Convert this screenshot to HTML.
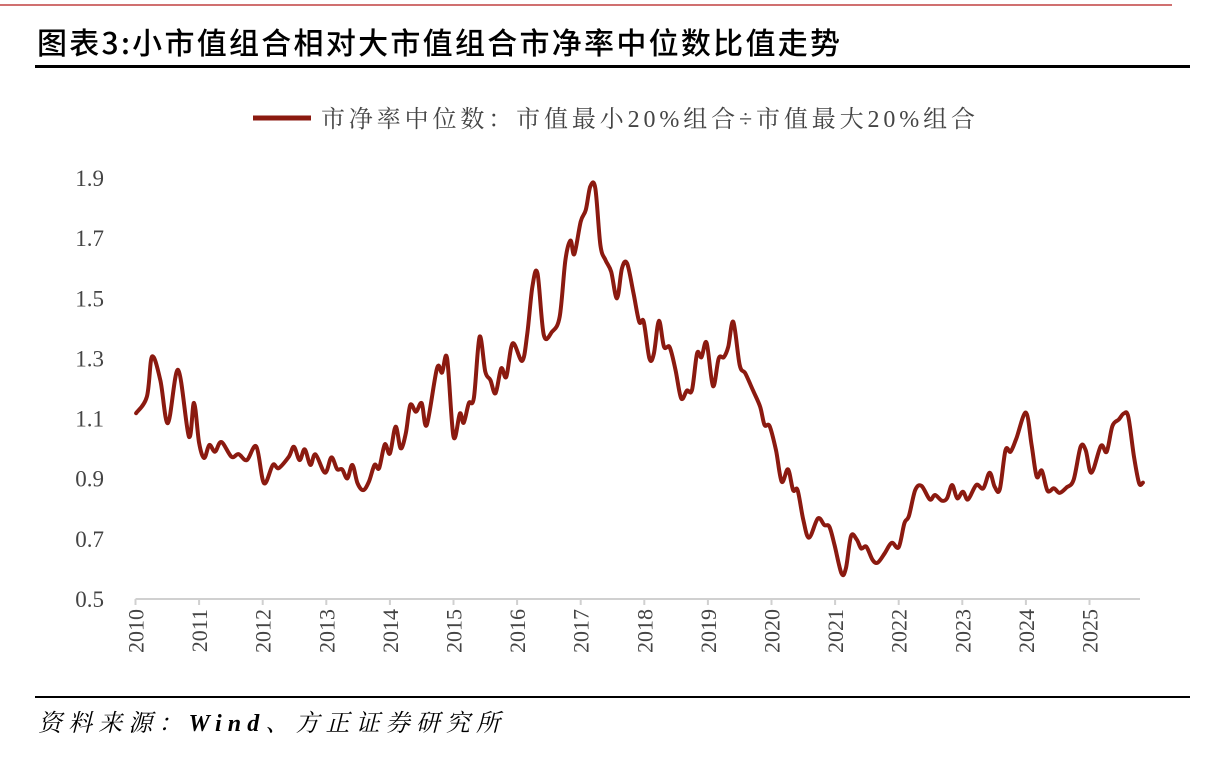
<!DOCTYPE html>
<html><head><meta charset="utf-8"><style>
body{margin:0;background:#fff;width:1214px;height:758px;overflow:hidden;position:relative;font-family:"Liberation Serif","Noto Serif CJK SC",serif}
.abs{position:absolute}
</style></head><body>
<div class="abs" style="left:0;top:4px;width:1172px;height:2px;background:#d07070"></div>
<div class="abs" style="left:35px;top:65px;width:1155px;height:3px;background:#000"></div>
<div class="abs" style="left:35px;top:696px;width:1155px;height:2px;background:#000"></div>
<svg class="abs" style="left:0;top:0" width="1214" height="758">
<text x="37" y="54" font-size="30" font-weight="500" fill="#000" font-family="Noto Sans CJK SC,sans-serif" textLength="803" lengthAdjust="spacing">图表3:小市值组合相对大市值组合市净率中位数比值走势</text>
<text x="38" y="731" font-size="24" font-style="italic" fill="#000" font-family="Liberation Serif,Noto Serif CJK SC,serif" textLength="462" lengthAdjust="spacing">资料来源：<tspan font-weight="bold">Wind</tspan>、方正证券研究所</text>
<g>
<line x1="253" y1="118" x2="311" y2="118" stroke="#8b1a10" stroke-width="5"/>
<text x="321" y="127" font-size="24" fill="#444" font-family="Liberation Serif,Noto Serif CJK SC,serif" textLength="654" lengthAdjust="spacing">市净率中位数：市值最小20%组合÷市值最大20%组合</text>
</g>
<g id="axes"></g>
<path id="line" fill="none" stroke="#8b1a10" stroke-width="4" stroke-linejoin="round" stroke-linecap="round"/>
</svg>
<script>
const dates=[2010.01,2010.18,2010.26,2010.39,2010.51,2010.67,2010.84,2010.92,2011.0,2011.08,2011.16,2011.25,2011.35,2011.51,2011.62,2011.75,2011.9,2012.02,2012.16,2012.25,2012.41,2012.49,2012.58,2012.66,2012.75,2012.83,2012.98,2013.08,2013.17,2013.25,2013.33,2013.41,2013.49,2013.58,2013.67,2013.76,2013.83,2013.92,2014.0,2014.09,2014.17,2014.25,2014.32,2014.41,2014.5,2014.58,2014.74,2014.82,2014.9,2015.0,2015.1,2015.16,2015.24,2015.32,2015.41,2015.5,2015.58,2015.66,2015.75,2015.83,2015.93,2016.08,2016.16,2016.24,2016.32,2016.42,2016.55,2016.67,2016.76,2016.84,2016.9,2017.0,2017.08,2017.15,2017.23,2017.31,2017.39,2017.48,2017.57,2017.65,2017.73,2017.83,2017.92,2017.99,2018.08,2018.15,2018.23,2018.31,2018.40,2018.49,2018.58,2018.67,2018.75,2018.83,2018.90,2018.98,2019.08,2019.17,2019.25,2019.32,2019.40,2019.50,2019.59,2019.71,2019.82,2019.89,2019.97,2020.07,2020.16,2020.26,2020.34,2020.41,2020.50,2020.59,2020.73,2020.83,2020.91,2020.99,2021.10,2021.17,2021.25,2021.34,2021.41,2021.49,2021.59,2021.67,2021.78,2021.89,2022.00,2022.09,2022.16,2022.26,2022.36,2022.49,2022.57,2022.68,2022.76,2022.84,2022.92,2023.01,2023.09,2023.22,2023.33,2023.43,2023.51,2023.59,2023.68,2023.76,2023.85,2024.0,2024.09,2024.17,2024.25,2024.34,2024.44,2024.53,2024.64,2024.75,2024.86,2024.94,2025.03,2025.18,2025.27,2025.36,2025.46,2025.54,2025.61,2025.70,2025.78,2025.84];
const values=[1.118,1.173,1.306,1.228,1.085,1.262,1.04,1.152,1.019,0.969,1.012,0.99,1.022,0.973,0.982,0.962,1.007,0.885,0.946,0.935,0.973,1.006,0.962,0.998,0.946,0.981,0.92,0.971,0.932,0.931,0.901,0.946,0.885,0.862,0.89,0.946,0.935,1.014,0.984,1.073,1.001,1.051,1.145,1.123,1.151,1.079,1.267,1.253,1.3,1.04,1.117,1.086,1.151,1.169,1.372,1.256,1.228,1.184,1.267,1.239,1.35,1.292,1.383,1.539,1.583,1.378,1.389,1.439,1.627,1.692,1.647,1.755,1.794,1.871,1.866,1.677,1.627,1.588,1.5,1.6,1.616,1.517,1.422,1.422,1.3,1.315,1.425,1.339,1.337,1.262,1.167,1.193,1.195,1.317,1.304,1.352,1.208,1.3,1.304,1.339,1.422,1.278,1.25,1.193,1.14,1.079,1.075,0.995,0.89,0.931,0.862,0.862,0.763,0.704,0.768,0.746,0.74,0.68,0.585,0.602,0.709,0.698,0.668,0.674,0.63,0.621,0.652,0.687,0.672,0.752,0.776,0.862,0.876,0.831,0.846,0.827,0.835,0.879,0.835,0.857,0.831,0.879,0.868,0.92,0.873,0.865,0.995,0.99,1.034,1.12,1.012,0.907,0.927,0.86,0.868,0.853,0.871,0.896,1.006,0.995,0.92,1.009,0.99,1.075,1.097,1.117,1.106,0.973,0.885,0.887];
const yTicks=[0.5,0.7,0.9,1.1,1.3,1.5,1.7,1.9];
const xYears=[2010,2011,2012,2013,2014,2015,2016,2017,2018,2019,2020,2021,2022,2023,2024,2025];
const X0=135.5,PX=63.6,Y0=599,PY=300.7;
const xs=t=>X0+(t-2010)*PX, ys=v=>Y0-(v-0.5)*PY;
const NS='http://www.w3.org/2000/svg';
const ax=document.getElementById('axes');
function mk(tag,attrs){const e=document.createElementNS(NS,tag);for(const k in attrs)e.setAttribute(k,attrs[k]);return e;}
const base=mk('line',{x1:X0,y1:Y0,x2:1140,y2:Y0,stroke:'#d0d0d0','stroke-width':2});


ax.appendChild(base);
xYears.forEach(y=>{
 const x=xs(y);
 const t=mk('line',{x1:x,y1:Y0,x2:x,y2:Y0+6,stroke:'#d0d0d0','stroke-width':2});
 
 
 ax.appendChild(t);
 const l=mk('text',{x:0,y:0,'font-size':22,fill:'#444','font-family':'Liberation Serif,serif','text-anchor':'end',transform:`translate(${x+8},${Y0+10}) rotate(-90)`});
 l.textContent=y;
 
 
 ax.appendChild(l);
});
yTicks.forEach(v=>{
 const l=mk('text',{x:104,y:ys(v)+8,'font-size':23,fill:'#444','font-family':'Liberation Serif,serif','text-anchor':'end'});
 l.textContent=v.toFixed(1);
 
 
 ax.appendChild(l);
});
const P=dates.map((d,i)=>[xs(d),ys(values[i])]);
let d=`M${P[0][0]},${P[0][1]}`;
for(let i=0;i<P.length-1;i++){
 const p0=P[i-1]||P[i],p1=P[i],p2=P[i+1],p3=P[i+2]||P[i+1];
 const c1=[p1[0]+(p2[0]-p0[0])/6,p1[1]+(p2[1]-p0[1])/6];
 const c2=[p2[0]-(p3[0]-p1[0])/6,p2[1]-(p3[1]-p1[1])/6];
 d+=` C${c1[0].toFixed(1)},${c1[1].toFixed(1)} ${c2[0].toFixed(1)},${c2[1].toFixed(1)} ${p2[0].toFixed(1)},${p2[1].toFixed(1)}`;
}
document.getElementById('line').setAttribute('d',d);
</script>
</body></html>
